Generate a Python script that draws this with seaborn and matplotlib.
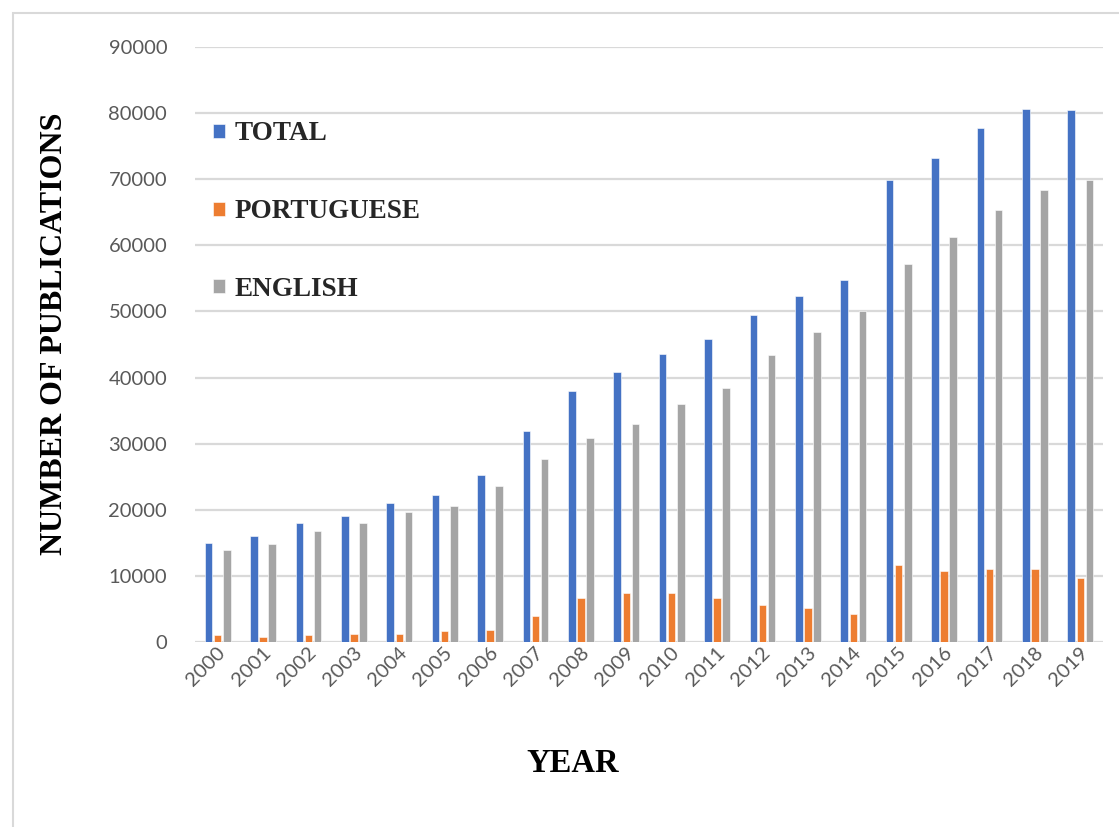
import matplotlib
matplotlib.use("Agg")
import matplotlib.pyplot as plt
import matplotlib.transforms as mtransforms
from matplotlib.patches import Rectangle
import pandas as pd
import seaborn as sns

years = [str(y) for y in range(2000, 2020)]
total = [15000, 16000, 17950, 19050, 21000, 22200, 25250, 31850, 37900, 40800,
         43600, 45800, 49450, 52350, 54700, 69900, 73200, 77700, 80600, 80400]
portuguese = [1050, 800, 1050, 1200, 1200, 1600, 1800, 3900, 6650, 7400,
              7400, 6700, 5550, 5150, 4200, 11600, 10750, 11000, 11000, 9700]
english = [13850, 14800, 16750, 17950, 19650, 20600, 23550, 27650, 30900, 33050,
           35950, 38400, 43400, 46900, 50000, 57200, 61200, 65400, 68300, 69900]
series_names = ["TOTAL", "PORTUGUESE", "ENGLISH"]
colors = ["#4472C4", "#ED7D31", "#A5A5A5"]
y_ticks = list(range(0, 90001, 10000))

df = pd.DataFrame({
    "year": years * 3,
    "count": total + portuguese + english,
    "series": [series_names[0]] * 20 + [series_names[1]] * 20 + [series_names[2]] * 20,
})

sns.set_theme(style="white")
plt.rcParams["font.family"] = ["Lato", "DejaVu Sans"]

fig = plt.figure(figsize=(11.19, 8.27), dpi=100)
ax = fig.add_axes([195 / 1119, 1 - 642 / 827, 908 / 1119, 595 / 827])

sns.barplot(data=df, x="year", y="count", hue="series", hue_order=series_names,
            palette=colors, width=0.6, gap=0.18, ax=ax, saturation=1,
            edgecolor="white", linewidth=0.4)

ax.set_ylim(0, 90000)
ax.set_xlim(-0.5, len(years) - 0.5)
ax.set_yticks(y_ticks)
ax.set_yticklabels([str(v) for v in y_ticks])
ax.yaxis.grid(True, color="#D9D9D9", linewidth=1.6)
ax.set_axisbelow(True)
for s in ["top", "right", "left", "bottom"]:
    ax.spines[s].set_visible(False)
ax.tick_params(axis="y", length=0, pad=20, labelsize=14.5, labelcolor="#595959")
ax.tick_params(axis="x", length=0, pad=6, labelsize=14.5, labelcolor="#595959")
shift = mtransforms.ScaledTranslation(5 / 100, 0, fig.dpi_scale_trans)
for lab in ax.get_xticklabels():
    lab.set_rotation(45)
    lab.set_ha("right")
    lab.set_va("center")
    lab.set_rotation_mode("anchor")
    lab.set_transform(lab.get_transform() + shift)
ax.set_xlabel("")
ax.set_ylabel("")

handles, labels = ax.get_legend_handles_labels()
ax.legend(handles, labels, loc="upper left", bbox_to_anchor=(0.02, 0.875),
          frameon=False, borderpad=0, borderaxespad=0,
          handlelength=0.42, handleheight=0.42, handletextpad=0.38,
          labelspacing=1.95,
          prop={"family": "Liberation Serif", "weight": "bold", "size": 19.5})

fig.text(55 / 1119, 1 - 334 / 827, "NUMBER OF PUBLICATIONS", rotation=90,
         ha="center", va="center", family="Liberation Serif",
         weight="bold", fontsize=23, color="black")
fig.text(573 / 1119, 1 - 763 / 827, "YEAR", ha="center", va="center",
         family="Liberation Serif", weight="bold", fontsize=23.5, color="black")

fig.patches.append(Rectangle((13 / 1119, -0.1), 1.2, 1 - 13 / 827 + 0.1,
                             transform=fig.transFigure, fill=False,
                             edgecolor="#D9D9D9", linewidth=1.5))

fig.savefig("out.png", dpi=100)
